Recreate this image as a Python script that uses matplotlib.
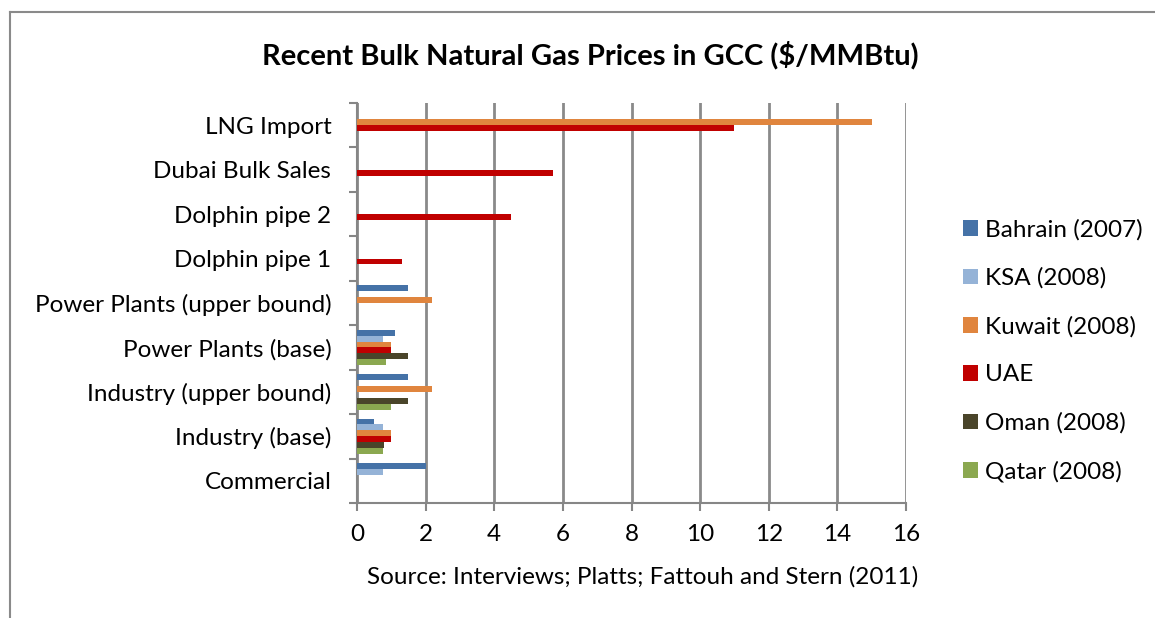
import numpy as np
import matplotlib.pyplot as plt
from matplotlib.lines import Line2D

categories = ["LNG Import", "Dubai Bulk Sales", "Dolphin pipe 2", "Dolphin pipe 1",
              "Power Plants (upper bound)", "Power Plants (base)",
              "Industry (upper bound)", "Industry (base)", "Commercial"]

series = ["Bahrain (2007)", "KSA (2008)", "Kuwait (2008)", "UAE", "Oman (2008)", "Qatar (2008)"]

bahrain = [0, 0, 0, 0, 1.5, 1.1, 1.5, 0.5, 2.0]
ksa     = [0, 0, 0, 0, 0, 0.75, 0, 0.75, 0.75]
kuwait  = [15.0, 0, 0, 0, 2.2, 1.0, 2.2, 1.0, 0]
uae     = [11.0, 5.7, 4.5, 1.3, 0, 1.0, 0, 1.0, 0]
oman    = [0, 0, 0, 0, 0, 1.5, 1.5, 0.8, 0]
qatar   = [0, 0, 0, 0, 0, 0.85, 1.0, 0.75, 0]

colors = ["#4572A7", "#95B3D7", "#E0853E", "#C00000", "#4A452A", "#8BA850"]

plt.rcParams['font.family'] = ['Lato', 'DejaVu Sans']

fig = plt.figure(figsize=(11.55, 6.18), dpi=100)
ax = fig.add_axes([357/1155, 1-503/618, (906-357)/1155, 400/618])

y = np.arange(len(categories))
h = 1/7.5
for i, (vals, name, c) in enumerate(zip([bahrain, ksa, kuwait, uae, oman, qatar], series, colors)):
    ax.barh(y + (i - 2.5)*h, vals, height=h, color=c, label=name, zorder=3)

ax.set_xlim(0, 16)
ax.set_ylim(len(categories) - 0.5, -0.5)
ax.set_xticks(np.arange(0, 17, 2))
ax.tick_params(axis='x', length=6, width=1.5, color='#868686', labelsize=17.5, pad=9)
ax.set_yticks(np.arange(-0.5, len(categories)), labels=[])
ax.set_yticks(y, labels=categories, minor=True)
ax.tick_params(axis='y', which='major', length=6, width=1.5, color='#868686')
ax.tick_params(axis='y', which='minor', length=0, labelsize=17.5, pad=18.5)
ax.xaxis.grid(True, color='#8a8a8a', linewidth=2)
ax.set_axisbelow(True)
for s in ['top', 'right']:
    ax.spines[s].set_visible(False)
for s in ['left', 'bottom']:
    ax.spines[s].set_color('#868686')
    ax.spines[s].set_linewidth(1.5)

fig.text(590/1155, 1-55/618, "Recent Bulk Natural Gas Prices in GCC ($/MMBtu)",
         ha='center', va='center', fontsize=21, fontweight='bold')
fig.text(643/1155, 1-577/618, "Source: Interviews; Platts; Fattouh and Stern (2011)",
         ha='center', va='center', fontsize=17.5)

ax.legend(loc='upper left', bbox_to_anchor=(963/1155, 1-219/618), bbox_transform=fig.transFigure,
          frameon=False, fontsize=17.5, handlelength=0.62, handleheight=0.62,
          handletextpad=0.3, labelspacing=1.11, borderpad=0, borderaxespad=0)

fig.add_artist(Line2D([10/1155, 1], [1-12/618, 1-12/618], color='#8a8a8a', lw=1.5))
fig.add_artist(Line2D([10/1155, 10/1155], [1-12/618, 0], color='#8a8a8a', lw=1.5))

fig.savefig("out.png", dpi=100)
